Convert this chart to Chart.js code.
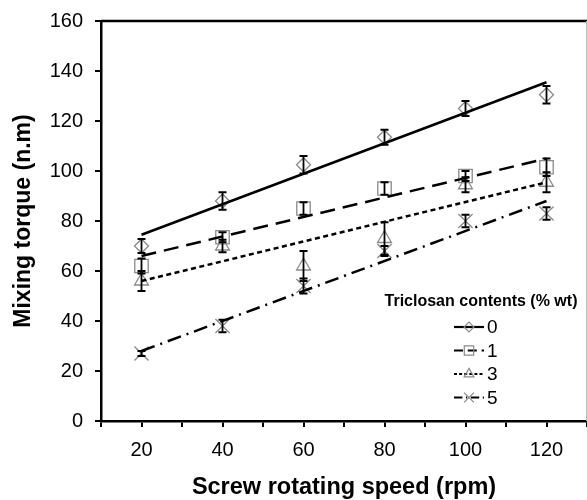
<!DOCTYPE html>
<html lang="en">
<head>
<meta charset="UTF-8">
<title>Mixing torque vs screw rotating speed</title>
<script src="https://cdn.jsdelivr.net/npm/chart.js@4"></script>
<style>
  html, body { margin: 0; padding: 0; background: #fff; }
  #wrap { width: 587px; height: 500px; }
</style>
</head>
<body>
<div id="wrap"><canvas id="torqueChart" width="587" height="500"></canvas></div>
<script>
// values
const speeds = [20, 40, 60, 80, 100, 120];
const contents = ['0', '1', '3', '5'];

const torque0 = [70, 88, 102.5, 113.5, 125, 130.5];
const torque1 = [62, 73.5, 85, 93, 98, 101.5];
const torque3 = [56, 70, 62, 73, 94.5, 95.5];
const torque5 = [27, 38, 54, 68, 80, 83];

const err0 = [2.8, 3.5, 3.5, 3, 3, 3.5];
const err1 = [3, 2, 2.5, 2.5, 2, 3.5];
const err3 = [4, 2.5, 6, 6.5, 3, 4];
const err5 = [1, 2.5, 3, 2, 2.5, 2.5];

// linear fit lines, start and end values
const fitX = [20, 120];
const fit0 = [74.5, 135.5];
const fit1 = [66, 105];
const fit3 = [56, 95.5];
const fit5 = [28, 88];

const xLabelTicks = [20, 40, 60, 80, 100, 120];

const series = [
  { vals: torque0, err: err0, fit: fit0, style: 'rectRot', r: 7, dash: [] },
  { vals: torque1, err: err1, fit: fit1, style: 'rect', r: 9.5, dash: [15, 8] },
  { vals: torque3, err: err3, fit: fit3, style: 'triangle', r: 8, dash: [5, 3.5] },
  { vals: torque5, err: err5, fit: fit5, style: 'crossRot', r: 10, dash: [14, 6, 2, 6] }
];

const markerColor = '#8a8a8a';
const datasets = [];
series.forEach((s, i) => {
  datasets.push({
    type: 'line',
    label: contents[i] + ' fit',
    data: fitX.map((x, k) => ({ x: x, y: s.fit[k] })),
    borderColor: '#000',
    borderWidth: 2.5,
    borderDash: s.dash,
    pointRadius: 0,
    fill: false
  });
  datasets.push({
    type: 'scatter',
    label: contents[i],
    data: speeds.map((x, k) => ({ x: x, y: s.vals[k] })),
    errors: s.err,
    pointStyle: s.style,
    pointRadius: s.r,
    pointBorderColor: markerColor,
    pointBackgroundColor: 'rgba(0,0,0,0)',
    pointBorderWidth: 1.3,
    showLine: false,
    fitDash: s.dash
  });
});

const errorBars = {
  id: 'errorBars',
  afterDatasetsDraw(chart) {
    const ctx = chart.ctx, xs = chart.scales.x, ys = chart.scales.y;
    ctx.save();
    ctx.strokeStyle = '#000';
    ctx.lineWidth = 1.8;
    chart.data.datasets.forEach(ds => {
      if (!ds.errors) return;
      ds.data.forEach((p, k) => {
        const e = ds.errors[k];
        const px = xs.getPixelForValue(p.x);
        const top = ys.getPixelForValue(p.y + e);
        const bot = ys.getPixelForValue(p.y - e);
        ctx.beginPath();
        ctx.moveTo(px, top); ctx.lineTo(px, bot);
        ctx.moveTo(px - 4, top); ctx.lineTo(px + 4, top);
        ctx.moveTo(px - 4, bot); ctx.lineTo(px + 4, bot);
        ctx.stroke();
      });
    });
    ctx.restore();
  }
};

const frameAndLegend = {
  id: 'frameAndLegend',
  afterDraw(chart) {
    const ctx = chart.ctx, a = chart.chartArea;
    ctx.save();
    // top border
    ctx.strokeStyle = '#000';
    ctx.lineWidth = 2.5;
    ctx.beginPath();
    ctx.moveTo(a.left, a.top); ctx.lineTo(a.right, a.top);
    ctx.stroke();
    ctx.strokeStyle = '#bbb';
    ctx.lineWidth = 1;
    ctx.beginPath();
    ctx.moveTo(586.5, a.top); ctx.lineTo(586.5, a.bottom);
    ctx.stroke();

    // legend
    ctx.fillStyle = '#000';
    ctx.textAlign = 'center';
    ctx.textBaseline = 'middle';
    ctx.font = 'bold 16px "Liberation Sans", Arial, sans-serif';
    ctx.fillText('Triclosan contents (% wt)', 481, 302);
    ctx.font = '19px "Liberation Sans", Arial, sans-serif';
    ctx.textAlign = 'left';
    const scatters = chart.data.datasets.filter(d => d.errors);
    scatters.forEach((ds, i) => {
      const y = 327 + i * 23.5;
      ctx.strokeStyle = '#000';
      ctx.lineWidth = 2.2;
      ctx.setLineDash(ds.fitDash.length ? ds.fitDash.map(v => v * 0.6) : []);
      ctx.beginPath();
      ctx.moveTo(454, y); ctx.lineTo(484, y);
      ctx.stroke();
      ctx.setLineDash([]);
      ctx.strokeStyle = markerColor;
      ctx.fillStyle = 'rgba(0,0,0,0)';
      ctx.lineWidth = 1.2;
      Chart.helpers.drawPoint(ctx, { pointStyle: ds.pointStyle, radius: ds.pointRadius * 0.7, rotation: 0, borderWidth: 1.2 }, 469, y);
      ctx.fillStyle = '#000';
      ctx.fillText(ds.label, 487, y + 1);
    });
    ctx.restore();
  }
};

Chart.defaults.font.family = '"Liberation Sans", Arial, sans-serif';
Chart.defaults.color = '#000';

new Chart(document.getElementById('torqueChart'), {
  data: { datasets: datasets },
  options: {
    responsive: false,
    animation: false,
    devicePixelRatio: 1,
    layout: { autoPadding: false, padding: { top: 21, right: 0, bottom: 0, left: 0 } },
    plugins: { legend: { display: false }, tooltip: { enabled: false } },
    scales: {
      x: {
        type: 'linear',
        min: 10, max: 130,
        afterFit(s) { s.height = 79; s.paddingLeft = 0; s.paddingRight = 0; },
        ticks: {
          stepSize: 10,
          autoSkip: false,
          maxRotation: 0,
          padding: 11,
          font: { size: 20 },
          callback: v => xLabelTicks.includes(v) ? String(v) : ''
        },
        grid: { drawOnChartArea: false, tickLength: 6, color: '#000', lineWidth: 2 },
        border: { color: '#000', width: 2.5 },
        title: {
          display: true,
          text: 'Screw rotating speed (rpm)',
          font: { size: 23.5, weight: 'bold' },
          padding: { top: 0, bottom: -2 }
        }
      },
      y: {
        min: 0, max: 160,
        afterFit(s) { s.width = 101; s.paddingTop = 0; s.paddingBottom = 0; },
        ticks: { stepSize: 20, padding: 12, font: { size: 20 } },
        grid: { drawOnChartArea: false, tickLength: 6, color: '#000', lineWidth: 2 },
        border: { color: '#000', width: 2.5 },
        title: {
          display: true,
          text: 'Mixing torque (n.m)',
          font: { size: 23, weight: 'bold' },
          padding: { top: 10, bottom: 0 }
        }
      }
    }
  },
  plugins: [errorBars, frameAndLegend]
});
</script>
</body>
</html>
